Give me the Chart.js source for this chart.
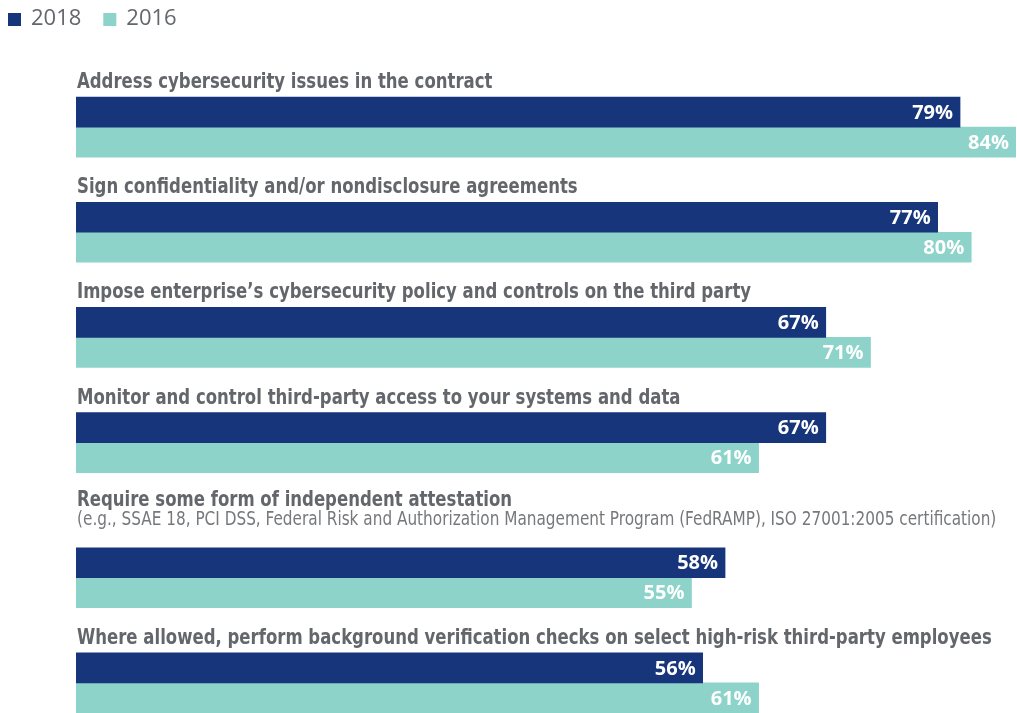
<!DOCTYPE html>
<html>
<head>
<meta charset="utf-8">
<script src="https://cdn.jsdelivr.net/npm/chart.js@4"></script>
<style>
  html, body { margin: 0; padding: 0; background: #fff; }
  #wrap { width: 1017px; height: 713px; position: relative; }
</style>
</head>
<body>
<div id="wrap"><canvas id="barChart"></canvas></div>
<script>
const categories = [
  'Address cybersecurity issues in the contract',
  'Sign confidentiality and/or nondisclosure agreements',
  'Impose enterprise\u2019s cybersecurity policy and controls on the third party',
  'Monitor and control third-party access to your systems and data',
  'Require some form of independent attestation',
  'Where allowed, perform background verification checks on select high-risk third-party employees'
];
const subtitles = [
  '', '', '', '',
  '(e.g., SSAE 18, PCI DSS, Federal Risk and Authorization Management Program (FedRAMP), ISO 27001:2005 certification)',
  ''
];
const series2018 = [79, 77, 67, 67, 58, 56];
const series2016 = [84, 80, 71, 61, 55, 61];
const seriesNames = ['2018', '2016'];

const NAVY = '#17357b';
const TEAL = '#8dd3ca';
const GREY = '#63666a';
const CONDENSED = '"DejaVu Sans Condensed", "DejaVu Sans", sans-serif';

// each group takes 3.5 bar-heights, plus one more when it has a second label line
let extra = 0;
const rowPos = categories.map((c, i) => {
  if (subtitles[i]) extra += 1;
  return i * 3.5 + extra;
});

// squeezed text so the condensed fallback reads like a narrow face
function narrowText(ctx, text, x, y, squeeze) {
  ctx.save();
  ctx.translate(x, y);
  ctx.scale(squeeze, 1);
  ctx.fillText(text, 0, 0);
  ctx.restore();
}

const groupLabels = {
  id: 'groupLabels',
  afterDatasetsDraw(chart) {
    const { ctx, scales: { x, y } } = chart;
    ctx.save();
    ctx.textAlign = 'left';
    ctx.textBaseline = 'alphabetic';
    rowPos.forEach((p, i) => {
      const barTop = y.getPixelForValue(p) - 30;
      const left = x.getPixelForValue(0) + 1;
      let base = barTop - 9;
      if (subtitles[i]) {
        ctx.font = '20px ' + CONDENSED;
        ctx.fillStyle = '#76787b';
        narrowText(ctx, subtitles[i], left, barTop - 23, 0.85);
        base = barTop - 42;
      }
      ctx.font = 'bold 22px ' + CONDENSED;
      ctx.fillStyle = GREY;
      narrowText(ctx, categories[i], left, base, 0.835);
    });
    // value labels at the bar ends
    ctx.font = 'bold 20px "Open Sans", sans-serif';
    ctx.fillStyle = '#fff';
    ctx.textAlign = 'right';
    ctx.textBaseline = 'middle';
    chart.data.datasets.forEach((ds, di) => {
      chart.getDatasetMeta(di).data.forEach((bar, i) => {
        ctx.fillText(ds.data[i].x + '%', bar.x - 7, bar.y + 1);
      });
    });
    ctx.restore();
  }
};

const legendBox = {
  id: 'legendBox',
  afterDraw(chart) {
    const { ctx } = chart;
    ctx.save();
    ctx.font = '22px "Open Sans", sans-serif';
    ctx.textBaseline = 'middle';
    let lx = 8;
    [NAVY, TEAL].forEach((col, i) => {
      ctx.fillStyle = col;
      ctx.fillRect(lx, 13, 13, 13);
      ctx.fillStyle = GREY;
      ctx.fillText(seriesNames[i], lx + 23, 19);
      lx += 23 + ctx.measureText(seriesNames[i]).width + 22;
    });
    ctx.restore();
  }
};

new Chart(document.getElementById('barChart'), {
  type: 'bar',
  data: {
    datasets: [
      { label: seriesNames[0], data: series2018.map((v, i) => ({ x: v, y: rowPos[i] })), backgroundColor: NAVY },
      { label: seriesNames[1], data: series2016.map((v, i) => ({ x: v, y: rowPos[i] })), backgroundColor: TEAL }
    ]
  },
  options: {
    indexAxis: 'y',
    responsive: true,
    maintainAspectRatio: false,
    animation: false,
    barThickness: 30,
    layout: { padding: { top: 67, left: 76, right: 1, bottom: 0 } },
    scales: {
      x: { type: 'linear', min: 0, max: 84, display: false },
      y: { type: 'linear', reverse: true, offset: false, min: -2, max: 19.5, display: false }
    },
    plugins: { legend: { display: false }, tooltip: { enabled: false } }
  },
  plugins: [groupLabels, legendBox]
});
</script>
</body>
</html>
